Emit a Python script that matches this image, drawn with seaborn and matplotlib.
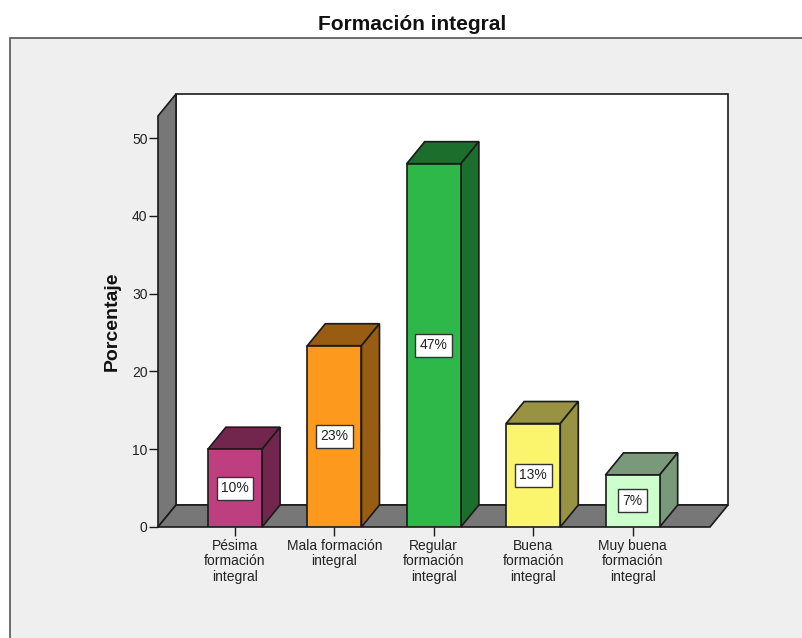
import matplotlib
matplotlib.use('Agg')
import matplotlib.pyplot as plt
import matplotlib.colors as mcolors
from matplotlib.patches import Rectangle
import pandas as pd
import seaborn as sns

categories = ['Pésima\nformación\nintegral', 'Mala formación\nintegral', 'Regular\nformación\nintegral',
              'Buena\nformación\nintegral', 'Muy buena\nformación\nintegral']
porcentaje = [10.0, 23.3, 46.7, 13.3, 6.7]
bar_labels = ['10%', '23%', '47%', '13%', '7%']
bar_colors = ['#BE3F80', '#FD9A1E', '#2FB84A', '#FBF56E', '#CCFFCC']
y_ticks = [0, 10, 20, 30, 40, 50]

W, H = 803, 638
PANEL = '#EFEFEF'
WALL = '#777777'
EDGE = '#1a1a1a'
TEXT = '#222222'

sns.set_style('white')
plt.rcParams['font.family'] = ['Liberation Sans', 'DejaVu Sans']

def darker(color, f=0.6):
    r, g, b = mcolors.to_rgb(color)
    return (r * f, g * f, b * f)

fig = plt.figure(figsize=(W / 100, H / 100), dpi=100, facecolor='white')
# grey panel, its right and bottom sides run off the picture
fig.add_artist(Rectangle((10 / W, -0.01), 1, (H - 38) / H + 0.01, transform=fig.transFigure,
                         facecolor=PANEL, edgecolor='#555555', linewidth=1.2, zorder=-1))
fig.text(412 / W, 1 - 24 / H, 'Formación integral', ha='center', va='center',
         fontsize=15, fontweight='bold', color='#111111')

# axes = front plane of the 3d box
ax = fig.add_axes([158 / W, 1 - 527 / H, (710 - 158) / W, (527 - 116) / H])
ax.patch.set_alpha(0)
frame = pd.DataFrame({'cat': categories, 'pct': porcentaje})
sns.barplot(data=frame, x='cat', y='pct', hue='cat', palette=bar_colors, legend=False,
            width=0.545, saturation=1, edgecolor=EDGE, linewidth=1.2, ax=ax, zorder=5)
ax.set_xlim((158 - 235) / 99.4, (710 - 235) / 99.4)
ax.set_ylim(0, (527 - 116) / 7.78)
dx = 18 / 99.4
dy = 22 / 7.78

x0, x1 = ax.get_xlim()
y0, y1 = ax.get_ylim()
style = dict(edgecolor=EDGE, linewidth=1.2, clip_on=False)
ax.fill([x0 + dx, x1 + dx, x1 + dx, x0 + dx], [y0 + dy, y0 + dy, y1 + dy, y1 + dy], facecolor='white', zorder=1, **style)
ax.fill([x0, x0 + dx, x0 + dx, x0], [y0, y0 + dy, y1 + dy, y1], facecolor=WALL, zorder=2, **style)
ax.fill([x0, x1, x1 + dx, x0 + dx], [y0, y0, y0 + dy, y0 + dy], facecolor=WALL, zorder=2, **style)

for bar, color, label in zip(ax.patches, bar_colors, bar_labels):
    left, right, top = bar.get_x(), bar.get_x() + bar.get_width(), bar.get_height()
    ax.fill([left, right, right + dx, left + dx], [top, top, top + dy, top + dy],
            facecolor=darker(color), zorder=4, **style)
    ax.fill([right, right + dx, right + dx, right], [0, dy, top + dy, top],
            facecolor=darker(color), zorder=4, **style)
    ax.text((left + right) / 2, top / 2, label, ha='center', va='center', fontsize=10, color=TEXT, zorder=7,
            bbox=dict(boxstyle='square,pad=0.32', facecolor='white', edgecolor='#333333', linewidth=1))

sns.despine(ax=ax, left=True, bottom=True, top=True, right=True)
ax.set_yticks(y_ticks)
ax.tick_params(axis='y', left=True, length=6.5, width=1, color=EDGE, labelsize=10, labelcolor=TEXT, pad=1)
ax.tick_params(axis='x', bottom=True, length=6.5, width=1, color=EDGE, labelsize=10, labelcolor=TEXT, pad=2)
for lab in ax.get_xticklabels():
    lab.set_linespacing(1.13)
ax.set_xlabel('')
ax.set_ylabel('')
fig.text(112 / W, 1 - 321 / H, 'Porcentaje', rotation=90, ha='center', va='center',
         fontsize=14, fontweight='bold', color='#111111')

fig.savefig('out.png', dpi=100, facecolor=fig.get_facecolor())
